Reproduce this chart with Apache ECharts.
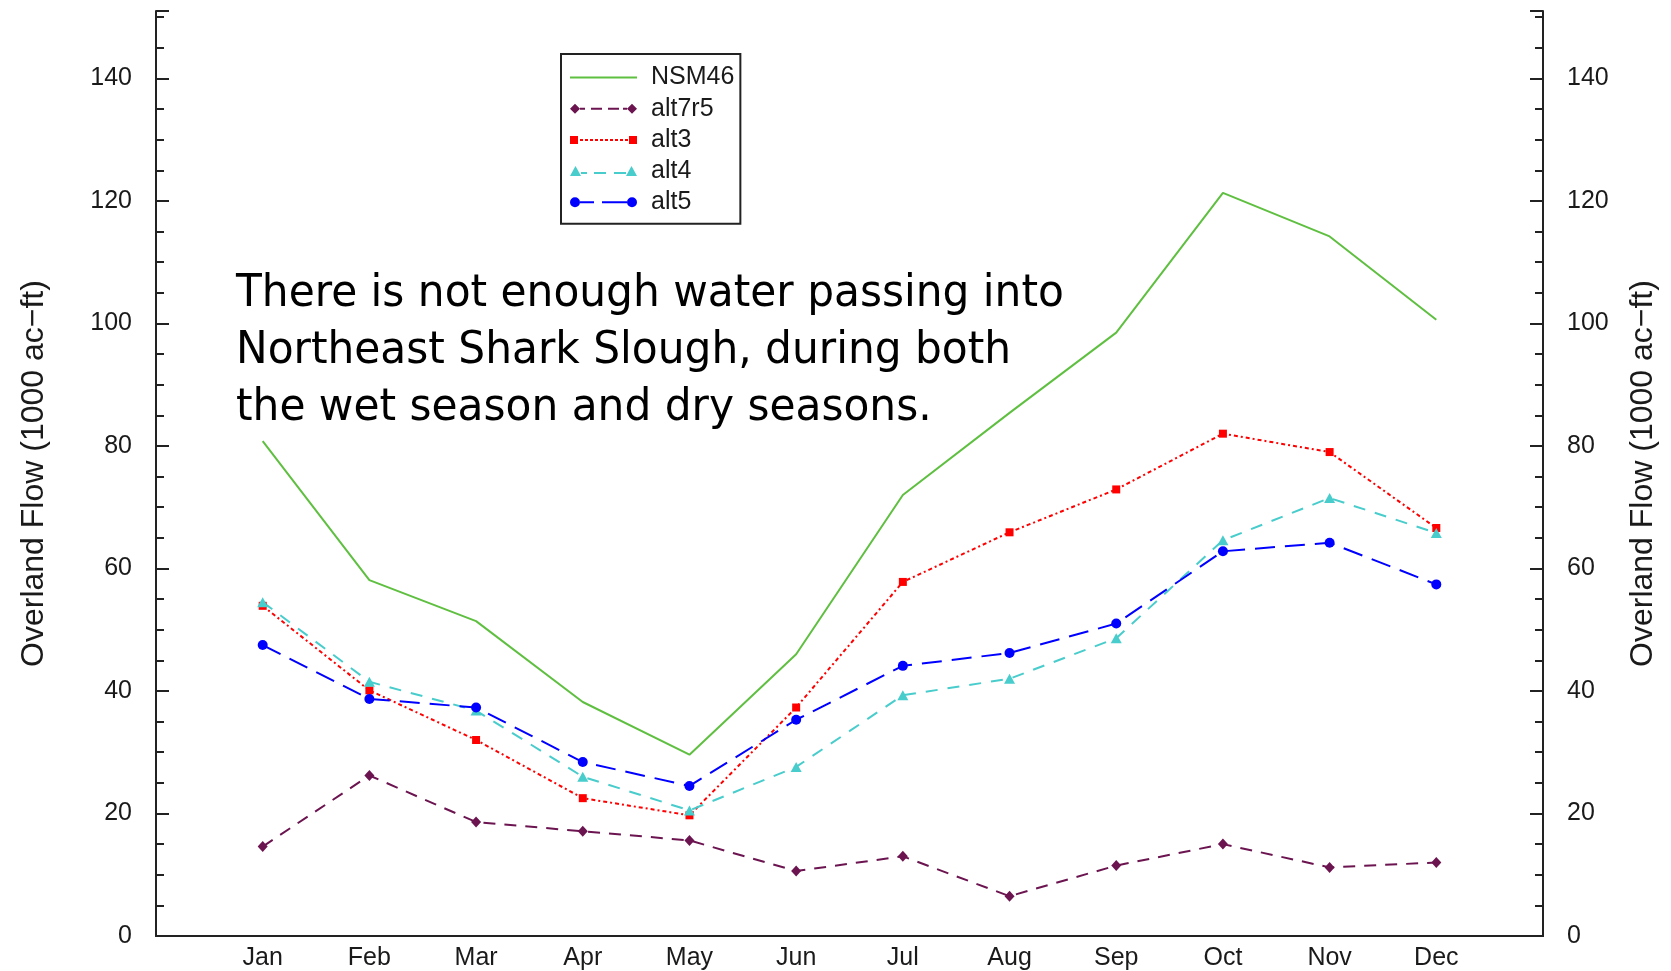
<!DOCTYPE html>
<html>
<head>
<meta charset="utf-8">
<title>Overland Flow</title>
<script src="https://cdn.jsdelivr.net/npm/echarts@6/dist/echarts.min.js"></script>
<style>
  html, body { margin: 0; padding: 0; background: #fff; }
  #chart { width: 1671px; height: 971px; }
</style>
</head>
<body>
<div id="chart"></div>
<script>
// Monthly overland flow into Northeast Shark Slough (1000 ac-ft)
const months = ['Jan', 'Feb', 'Mar', 'Apr', 'May', 'Jun', 'Jul', 'Aug', 'Sep', 'Oct', 'Nov', 'Dec'];
const nsm46  = [80.8, 58.1, 51.4, 38.2, 29.6, 46.0, 72.0, 85.4, 98.5, 121.3, 114.2, 100.6];
const alt7r5 = [14.6, 26.2, 18.6, 17.1, 15.6, 10.6, 13.0, 6.5, 11.5, 15.0, 11.2, 12.0];
const alt3   = [53.9, 40.1, 32.0, 22.5, 19.7, 37.3, 57.8, 65.9, 72.9, 82.0, 79.0, 66.6];
const alt4   = [54.5, 41.5, 36.8, 26.0, 20.5, 27.6, 39.3, 42.0, 48.6, 64.6, 71.5, 65.8];
const alt5   = [47.5, 38.7, 37.3, 28.4, 24.5, 35.3, 44.1, 46.2, 51.0, 62.8, 64.2, 57.4];
const yLabelStep = 20;
const yMinorStep = 5;
const note = [
  'There is not enough water passing into',
  'Northeast Shark Slough, during both',
  'the wet season and dry seasons.'
];

const axisFont = 'Liberation Sans';
const ink = '#1a1a1a';
const yName = 'Overland Flow (1000 ac\u2212ft)';

const toPoints = arr => arr.map((v, i) => [i + 1, v]);

// Legend icons: marker at each end joined by the series' dash pattern
function rects(list, y, h) {
  return list.map(([x, w]) => `M${x} ${y} h${w} v${h} h${-w} Z`).join(' ');
}
const dotRuns = [];
for (let x = 10; x < 57; x += 5) dotRuns.push([x, 3]);
const icons = {
  NSM46: 'path://' + rects([[0, 67]], 0, 2),
  alt7r5: 'path://M0 5 L5 0 L10 5 L5 10 Z M57 5 L62 0 L67 5 L62 10 Z ' +
    rects([[10, 5], [21, 11], [38, 11], [53, 4]], 4, 2),
  alt3: 'path://M0 1 h8 v8 h-8 Z M59 1 h8 v8 h-8 Z ' + rects(dotRuns, 4, 2),
  alt4: 'path://M0 10 L5.5 0 L11 10 Z M56 10 L61.5 0 L67 10 Z ' +
    rects([[11, 6], [24, 12], [44, 12]], 6, 2),
  alt5: 'path://M0 5 a5 5 0 1 0 10 0 a5 5 0 1 0 -10 0 Z M57 5 a5 5 0 1 0 10 0 a5 5 0 1 0 -10 0 Z ' +
    rects([[10, 14], [32, 25]], 4, 2)
};

function valueAxis(position, major, withName) {
  const right = position === 'right';
  return {
    type: 'value',
    position: position,
    min: 0,
    max: 151,
    interval: major ? yLabelStep : yMinorStep,
    name: withName ? yName : '',
    nameLocation: 'middle',
    nameRotate: 90,
    nameGap: right ? 84 : 106,
    nameTextStyle: { fontFamily: axisFont, fontSize: 32, color: ink },
    axisLine: { show: !major, lineStyle: { color: '#222', width: 2 } },
    axisTick: { show: true, inside: true, length: major ? 13 : 8, lineStyle: { color: '#222', width: 2 } },
    axisLabel: {
      show: !major,
      margin: 24,
      fontFamily: axisFont,
      fontSize: 25,
      color: ink,
      formatter: v => (v % yLabelStep === 0 ? String(v) : '')
    },
    splitLine: { show: false }
  };
}

const chart = echarts.init(document.getElementById('chart'), null, { renderer: 'canvas' });

const seriesDefs = [
  { name: 'NSM46', data: nsm46, color: '#5fbf40', dash: 'solid', symbol: 'none', size: 0 },
  { name: 'alt7r5', data: alt7r5, color: '#6b1450', dash: [12, 9], symbol: 'diamond', size: [10, 11] },
  { name: 'alt3', data: alt3, color: '#ff0000', dash: [4, 3, 2, 3], symbol: 'rect', size: 8 },
  { name: 'alt4', data: alt4, color: '#48cccc', dash: [12, 10], symbol: 'triangle', size: [11, 10] },
  { name: 'alt5', data: alt5, color: '#0000ff', dash: [20, 10], symbol: 'circle', size: 10 }
];

chart.setOption({
  animation: false,
  backgroundColor: '#ffffff',
  grid: { left: 156, right: 128, top: 11, bottom: 34, containLabel: false },
  legend: {
    orient: 'vertical',
    left: 561,
    top: 54,
    padding: [11, 6, 9, 9],
    itemWidth: 67,
    itemHeight: 12,
    itemGap: 6.2,
    backgroundColor: '#ffffff',
    borderColor: '#222',
    borderWidth: 2,
    borderRadius: 0,
    selectedMode: false,
    textStyle: { fontFamily: axisFont, fontSize: 25, color: ink, lineHeight: 24, padding: [0, 0, 0, 9] },
    data: seriesDefs.map(s => ({ name: s.name, icon: icons[s.name] }))
  },
  xAxis: [
    {
      type: 'value',
      position: 'bottom',
      min: 0,
      max: 13,
      interval: 1,
      axisLine: { show: true, lineStyle: { color: '#222', width: 2 } },
      axisTick: { show: false },
      splitLine: { show: false },
      axisLabel: {
        margin: 10,
        fontFamily: axisFont,
        fontSize: 25,
        color: ink,
        formatter: v => months[v - 1] || ''
      }
    },
    {
      type: 'value',
      position: 'top',
      min: 0,
      max: 13,
      interval: 1,
      axisLine: { show: true, lineStyle: { color: '#222', width: 2 } },
      axisTick: { show: false },
      axisLabel: { show: false },
      splitLine: { show: false }
    }
  ],
  yAxis: [
    valueAxis('left', false, true),
    valueAxis('left', true, false),
    valueAxis('right', false, true),
    valueAxis('right', true, false)
  ],
  series: seriesDefs.map(s => ({
    name: s.name,
    type: 'line',
    xAxisIndex: 0,
    yAxisIndex: 0,
    data: toPoints(s.data),
    symbol: s.symbol,
    symbolSize: s.size,
    showSymbol: s.symbol !== 'none',
    showAllSymbol: true,
    color: s.color,
    itemStyle: { color: s.color },
    lineStyle: { color: s.color, width: 2, type: s.dash },
    emphasis: { disabled: true },
    silent: true
  })),
  graphic: [
    {
      type: 'text',
      x: 236,
      y: 266,
      scaleX: 0.94,
      z: 10,
      style: {
        text: note.join('\n'),
        font: '45px "DejaVu Sans"',
        fill: '#000000',
        lineHeight: 57,
        align: 'left',
        verticalAlign: 'top'
      }
    }
  ]
});
</script>
</body>
</html>
